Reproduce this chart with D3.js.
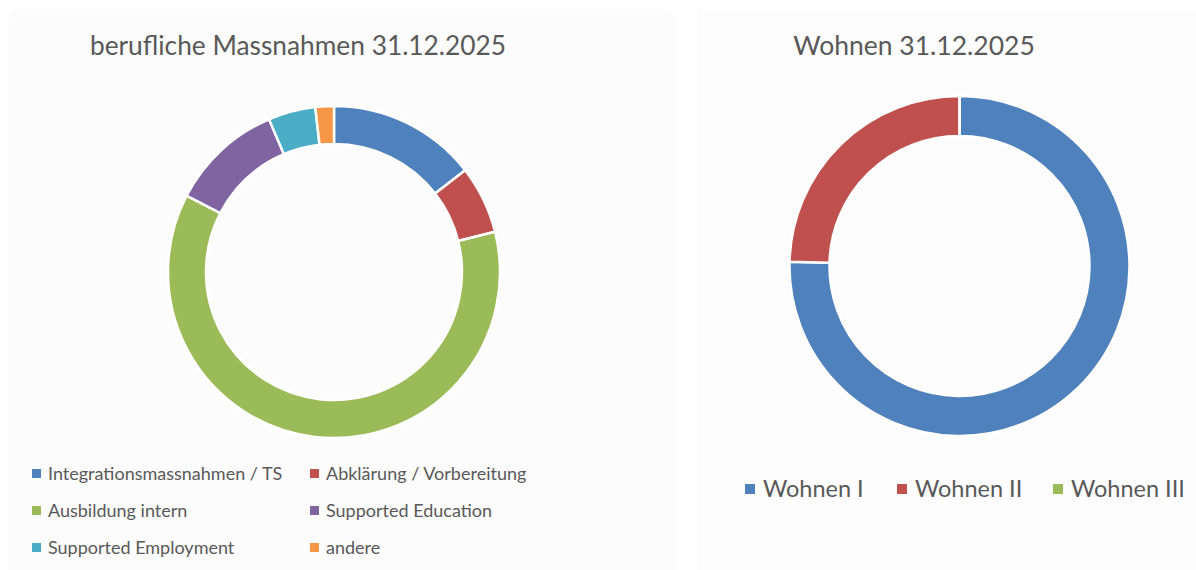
<!DOCTYPE html>
<html>
<head>
<meta charset="utf-8">
<script src="https://cdn.jsdelivr.net/npm/d3@7"></script>
<style>
  body { margin: 0; background: #ffffff; }
  svg { display: block; font-family: Lato, "Open Sans", sans-serif; }
</style>
</head>
<body>
<div id="chart"></div>
<script>
// data (shares in percent)
const massnahmenLabels = ["Integrationsmassnahmen / TS", "Abklärung / Vorbereitung", "Ausbildung intern",
  "Supported Education", "Supported Employment", "andere"];
const massnahmenValues = [14.5, 6.6, 61.5, 11.0, 4.6, 1.8];
const massnahmenColors = ["#4f81bd", "#c0504d", "#9bbb59", "#8064a2", "#4bacc6", "#f79646"];

const wohnenLabels = ["Wohnen I", "Wohnen II", "Wohnen III"];
const wohnenValues = [75.4, 24.6, 0];
const wohnenColors = ["#4f81bd", "#c0504d", "#9bbb59"];

const width = 1196;
const height = 570;

const svg = d3.select("#chart")
  .append("svg")
  .attr("width", width)
  .attr("height", height);

// very faint chart panels
svg.append("rect")
  .attr("x", 8).attr("y", 9).attr("width", 669).attr("height", 570)
  .attr("rx", 12)
  .style("fill", "#fcfcfc");
svg.append("rect")
  .attr("x", 698).attr("y", 9).attr("width", 498).attr("height", 570)
  .style("fill", "#fdfdfd");

function donut(labels, values, colors, cx, cy, outer, inner) {
  const pie = d3.pie().sort(null).value((d) => d);
  const arc = d3.arc().innerRadius(inner).outerRadius(outer);
  const color = d3.scaleOrdinal().domain(labels).range(colors);

  const g = svg.append("g").attr("transform", `translate(${cx}, ${cy})`);
  g.selectAll("path")
    .data(pie(values))
    .join("path")
    .attr("d", arc)
    .style("fill", (d, i) => color(labels[i]))
    .style("stroke", "#ffffff")
    .style("stroke-width", "2.5px");
  return color;
}

// left chart
svg.append("text")
  .attr("x", 298)
  .attr("y", 55)
  .style("text-anchor", "middle")
  .style("font-size", "26.3px")
  .style("fill", "#595959")
  .text("berufliche Massnahmen 31.12.2025");

const leftColor = donut(massnahmenLabels, massnahmenValues, massnahmenColors, 334, 272, 166, 128);

const legendLeft = svg.append("g")
  .selectAll("g")
  .data(massnahmenLabels)
  .join("g")
  .attr("transform", (d, i) => `translate(${i % 2 === 0 ? 32 : 310}, ${474 + Math.floor(i / 2) * 37})`);

legendLeft.append("rect")
  .attr("x", 0).attr("y", -5)
  .attr("width", 9).attr("height", 9)
  .style("fill", (d) => leftColor(d));

legendLeft.append("text")
  .attr("x", 16)
  .attr("y", 0)
  .attr("dy", "0.35em")
  .style("font-size", "18px")
  .style("fill", "#595959")
  .text((d) => d);

// right chart
svg.append("text")
  .attr("x", 914)
  .attr("y", 55)
  .style("text-anchor", "middle")
  .style("font-size", "26.5px")
  .style("fill", "#595959")
  .text("Wohnen 31.12.2025");

const rightColor = donut(wohnenLabels, wohnenValues, wohnenColors, 959.5, 266, 170, 130);

const legendX = [745, 897, 1053];
const legendRight = svg.append("g")
  .selectAll("g")
  .data(wohnenLabels)
  .join("g")
  .attr("transform", (d, i) => `translate(${legendX[i]}, 489)`);

legendRight.append("rect")
  .attr("x", 0).attr("y", -5)
  .attr("width", 10).attr("height", 10)
  .style("fill", (d) => rightColor(d));

legendRight.append("text")
  .attr("x", 18)
  .attr("y", 0)
  .attr("dy", "0.35em")
  .style("font-size", "23.5px")
  .style("fill", "#595959")
  .text((d) => d);
</script>
</body>
</html>
